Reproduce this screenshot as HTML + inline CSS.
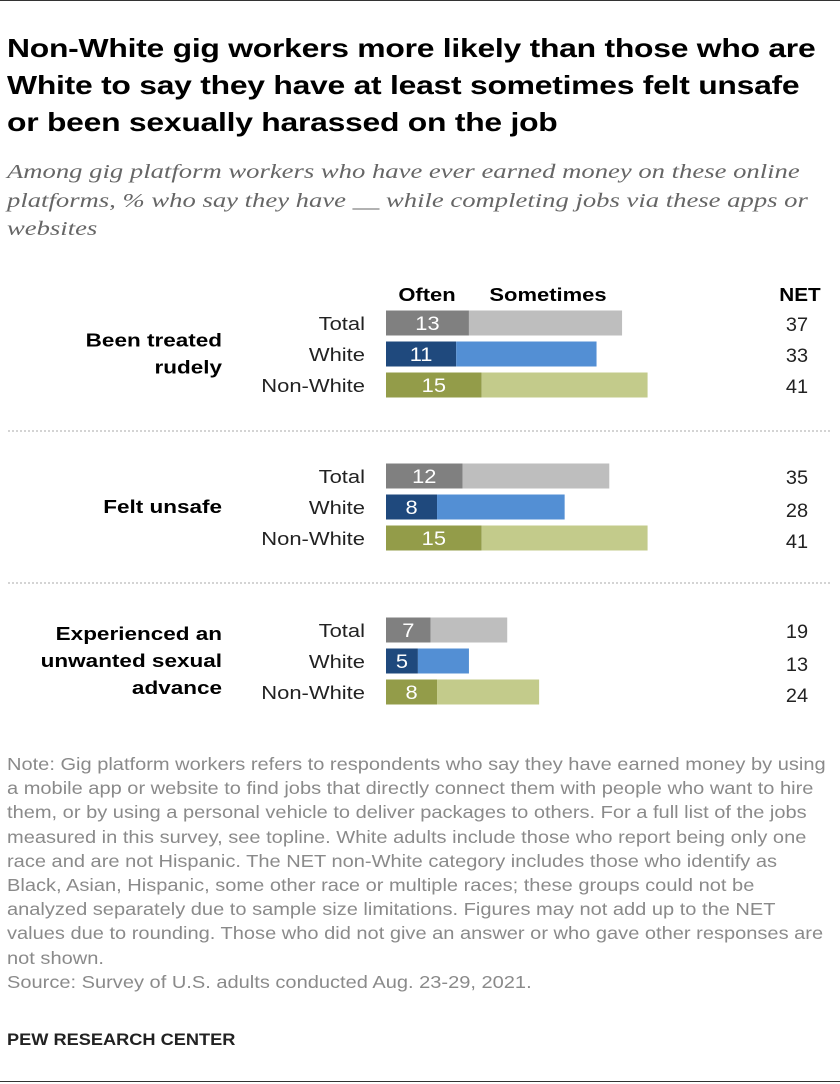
<!DOCTYPE html>
<html><head><meta charset="utf-8"><style>
body{margin:0;background:#fff;font-family:"Liberation Sans",Arial,sans-serif;}
#wrap{position:relative;width:840px;height:1084px;overflow:hidden}
.t{position:absolute;white-space:nowrap;transform-origin:0 0}
</style></head><body>
<div id="wrap">
<div style="position:absolute;left:0;top:0;width:840px;border-top:1px solid #333"></div>
<div class="t" style="left:7px;top:30px;font-size:26px;font-weight:bold;line-height:37px;color:#000;letter-spacing:-0.2px;transform:scaleX(1.225)">Non-White gig workers more likely than those who are<br>White to say they have at least sometimes felt unsafe<br>or been sexually harassed on the job</div>
<div class="t" style="left:7px;top:158px;font-family:'Liberation Serif',serif;font-style:italic;font-size:20.5px;line-height:28.5px;color:#666;transform:scaleX(1.3)">Among gig platform workers who have ever earned money on these online<br>platforms, % who say they have __ while completing jobs via these apps or<br>websites</div>
<svg id="c" width="840" height="740" style="position:absolute;left:0;top:0"></svg>
<div class="t" style="left:7px;top:752px;font-size:17.5px;line-height:24.2px;color:#8a8a8a;transform:scaleX(1.145)">Note: Gig platform workers refers to respondents who say they have earned money by using<br>a mobile app or website to find jobs that directly connect them with people who want to hire<br>them, or by using a personal vehicle to deliver packages to others. For a full list of the jobs<br>measured in this survey, see topline. White adults include those who report being only one<br>race and are not Hispanic. The NET non-White category includes those who identify as<br>Black, Asian, Hispanic, some other race or multiple races; these groups could not be<br>analyzed separately due to sample size limitations. Figures may not add up to the NET<br>values due to rounding. Those who did not give an answer or who gave other responses are<br>not shown.<br>Source: Survey of U.S. adults conducted Aug. 23-29, 2021.</div>
<div class="t" style="left:7px;top:1030px;font-size:17px;font-weight:bold;color:#222;transform:scaleX(1.07)">PEW RESEARCH CENTER</div>
<div style="position:absolute;left:0;top:1081px;width:840px;border-top:1px solid #333"></div>
</div>
<script>
const groups=["Been treated|rudely","Felt unsafe","Experienced an|unwanted sexual|advance"];
const rows=["Total","White","Non-White"];
const often=[[13,11,15],[12,8,15],[7,5,8]];
const net=[[37,33,41],[35,28,41],[19,13,24]];
const svg=document.getElementById('c');const NS='http://www.w3.org/2000/svg';
const x0=386,k=6.38;const xs=v=>x0+v*k;
const dark=['#808080','#1f497d','#939c49'],light=['#bebebe','#538fd4','#c3cb8b'];
const gy=[323,476,630];
function tx(x,y,s,o,f){const e=document.createElementNS(NS,'text');e.setAttribute('x',x);e.setAttribute('y',y);e.textContent=s;for(const a in o)e.setAttribute(a,o[a]);e.setAttribute('font-family','Liberation Sans, Arial, sans-serif');svg.appendChild(e);
 if(f){const w=e.getComputedTextLength();e.setAttribute('textLength',w*f);e.setAttribute('lengthAdjust','spacingAndGlyphs');}
 return e;}
function rc(x,y,w,h,f){const e=document.createElementNS(NS,'rect');e.setAttribute('x',x);e.setAttribute('y',y);e.setAttribute('width',w);e.setAttribute('height',h);e.setAttribute('fill',f);svg.appendChild(e);return e;}
let h=tx(427,301,'Often',{'font-size':18,'font-weight':'bold','text-anchor':'middle'},1.22);

h=tx(548,301,'Sometimes',{'font-size':18,'font-weight':'bold','text-anchor':'middle'},1.22);

h=tx(800,301,'NET',{'font-size':18,'font-weight':'bold','text-anchor':'middle'},1.15);

groups.forEach((g,gi)=>{
 const lines=g.split('|');const cy=gy[gi]+31;const st=cy-(lines.length-1)*13.5;
 lines.forEach((l,li)=>{const e=tx(222,st+li*27+6,l,{'font-size':18,'font-weight':'bold','text-anchor':'end'},1.25);
 });
 rows.forEach((r,ri)=>{
  const y=gy[gi]+ri*31;
  let e=tx(365,y+7,r,{'font-size':18,'text-anchor':'end','fill':'#222'},1.22);
  
  const o=often[gi][ri],n=net[gi][ri];
  e=rc(xs(0),y-12.5,xs(o)-xs(0),25,dark[ri]);
  
  e=rc(xs(o),y-12.5,xs(n)-xs(o),25,light[ri]);
  
  e=tx((xs(0)+xs(o))/2,y+7,o,{'font-size':19,'text-anchor':'middle','fill':'#fff'},1.15);
  
  e=tx(797,y+8+(gi>0&&ri>0?2:0),n,{'font-size':19,'text-anchor':'middle','fill':'#222'},1.05);
  
 });
});
[431,583].forEach(y=>{const e=document.createElementNS(NS,'line');e.setAttribute('x1',8);e.setAttribute('x2',832);e.setAttribute('y1',y);e.setAttribute('y2',y);e.setAttribute('stroke','#aaa');e.setAttribute('stroke-dasharray','2,2');


svg.appendChild(e);});
</script>
</body></html>
